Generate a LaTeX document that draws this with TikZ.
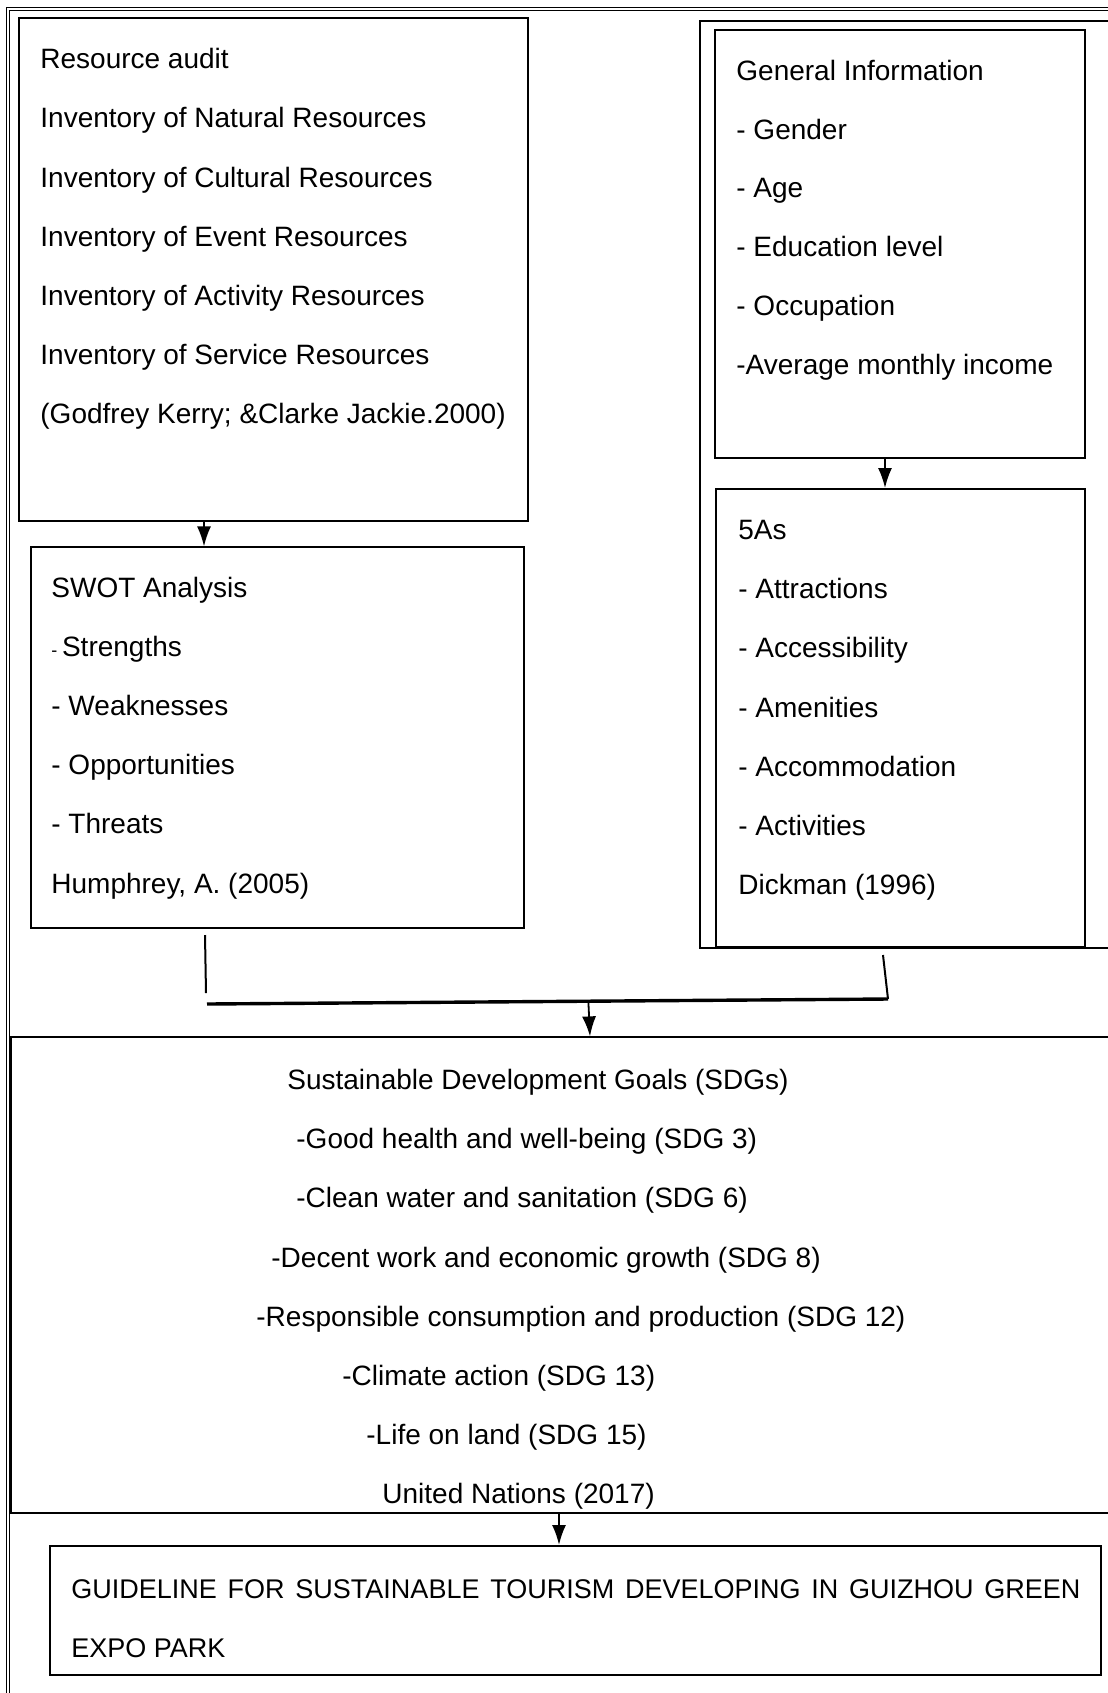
\documentclass[tikz,border=0pt]{standalone}
\usepackage{fontspec}
\setmainfont{Liberation Sans}
\usetikzlibrary{arrows.meta,calc,positioning,fit}

\tikzset{
  box/.style={draw,line width=0.6pt,inner sep=0pt},
  heavybox/.style={draw,line width=1pt,inner sep=0pt},
  txt/.style={anchor=base west,inner sep=0pt},
  flow/.style={line width=0.9pt,-{Latex[length=10pt,width=7pt]}}
}

\begin{document}
\begin{tikzpicture}[x=0.5pt,y=-0.5pt,every node/.style={font=\fontsize{14}{29.6}\selectfont}]
  \useasboundingbox (0,0) rectangle (1108,1693);
  \clip (0,0) rectangle (1108,1693);
  \draw[line width=0.9pt,double,double distance=0.6pt] (1130,9) -- (8,9) -- (8,1720);

  \node[box,fit={(19,18) (528,521)}] (audit) {};
  \node[box,fit={(31,547) (524,928)}] (swot) {};
  \node[box,fit={(700,21) (1130,948)}] (rightframe) {};
  \node[heavybox,fit={(715,30) (1085,458)}] (info) {};
  \node[heavybox,fit={(716,489) (1085,947)}] (fiveas) {};
  \node[box,fit={(11,1037) (1130,1513)}] (sdg) {};
  \node[heavybox,fit={(50,1546) (1101,1675)}] (guide) {};

  \foreach \t [count=\i] in {Resource audit,Inventory of Natural Resources,Inventory of Cultural Resources,Inventory of Event Resources,Inventory of Activity Resources,Inventory of Service Resources,(Godfrey Kerry; \&Clarke Jackie.2000)}
    \node[txt] (audit-\i) at (40,{68.7+59.2*(\i-1)}) {\t};
  \foreach \t [count=\i] in {SWOT Analysis,{{\fontsize{9}{9}\selectfont -}\,Strengths},- Weaknesses,- Opportunities,- Threats,{Humphrey, A. (2005)}}
    \node[txt] (swot-\i) at (51,{597+59.2*(\i-1)}) {\t};
  \foreach \t [count=\i] in {General Information,- Gender,- Age,- Education level,- Occupation,-Average monthly income}
    \node[txt] (info-\i) at (736,{80.5+58.7*(\i-1)}) {\t};
  \foreach \t [count=\i] in {5As,- Attractions,- Accessibility,- Amenities,- Accommodation,- Activities,Dickman (1996)}
    \node[txt] (fiveas-\i) at (738,{539.5+59.2*(\i-1)}) {\t};
  \foreach \x/\t [count=\i] in {287/Sustainable Development Goals (SDGs),296/-Good health and well-being (SDG 3),296/-Clean water and sanitation (SDG 6),271/-Decent work and economic growth (SDG 8),256/-Responsible consumption and production (SDG 12),342/-Climate action (SDG 13),366/-Life on land (SDG 15),382/United Nations (2017)}
    \node[txt] (sdg-\i) at (\x,{1089.5+59.2*(\i-1)}) {\t};

  \node[txt,font=\fontsize{13.5}{29.6}\selectfont] (guide-1) at (71,1598) {\makebox[504.5pt][s]{GUIDELINE FOR SUSTAINABLE TOURISM DEVELOPING IN GUIZHOU GREEN}};
  \node[txt,font=\fontsize{13.5}{29.6}\selectfont] (guide-2) at (71,1657.5) {EXPO PARK};

  \coordinate (lx) at (204,0);
  \coordinate (rx) at (885,0);
  \coordinate (mx) at (590,0);
  \coordinate (bx) at (559,0);
  \coordinate (ltop) at (205,935);
  \coordinate (lbot) at (206,993);
  \coordinate (joinl) at (207,1004);
  \coordinate (joinr) at (888,999);
  \coordinate (rtop) at (883,955);

  \draw[flow] (audit.south -| lx) -- (swot.north -| lx);
  \draw[flow] (info.south -| rx) -- (fiveas.north -| rx);
  \draw[line width=1pt] (ltop) -- (lbot);
  \draw[line width=1pt] (rtop) -- (joinr);
  \draw[line width=1.7pt] (joinl) -- (joinr);
  \draw[flow] ($(joinl)!0.56!(joinr)$ |- 0,996) -- (sdg.north -| mx);
  \draw[flow,line width=1pt] (sdg.south -| bx) -- (guide.north -| bx);
\end{tikzpicture}
\end{document}
